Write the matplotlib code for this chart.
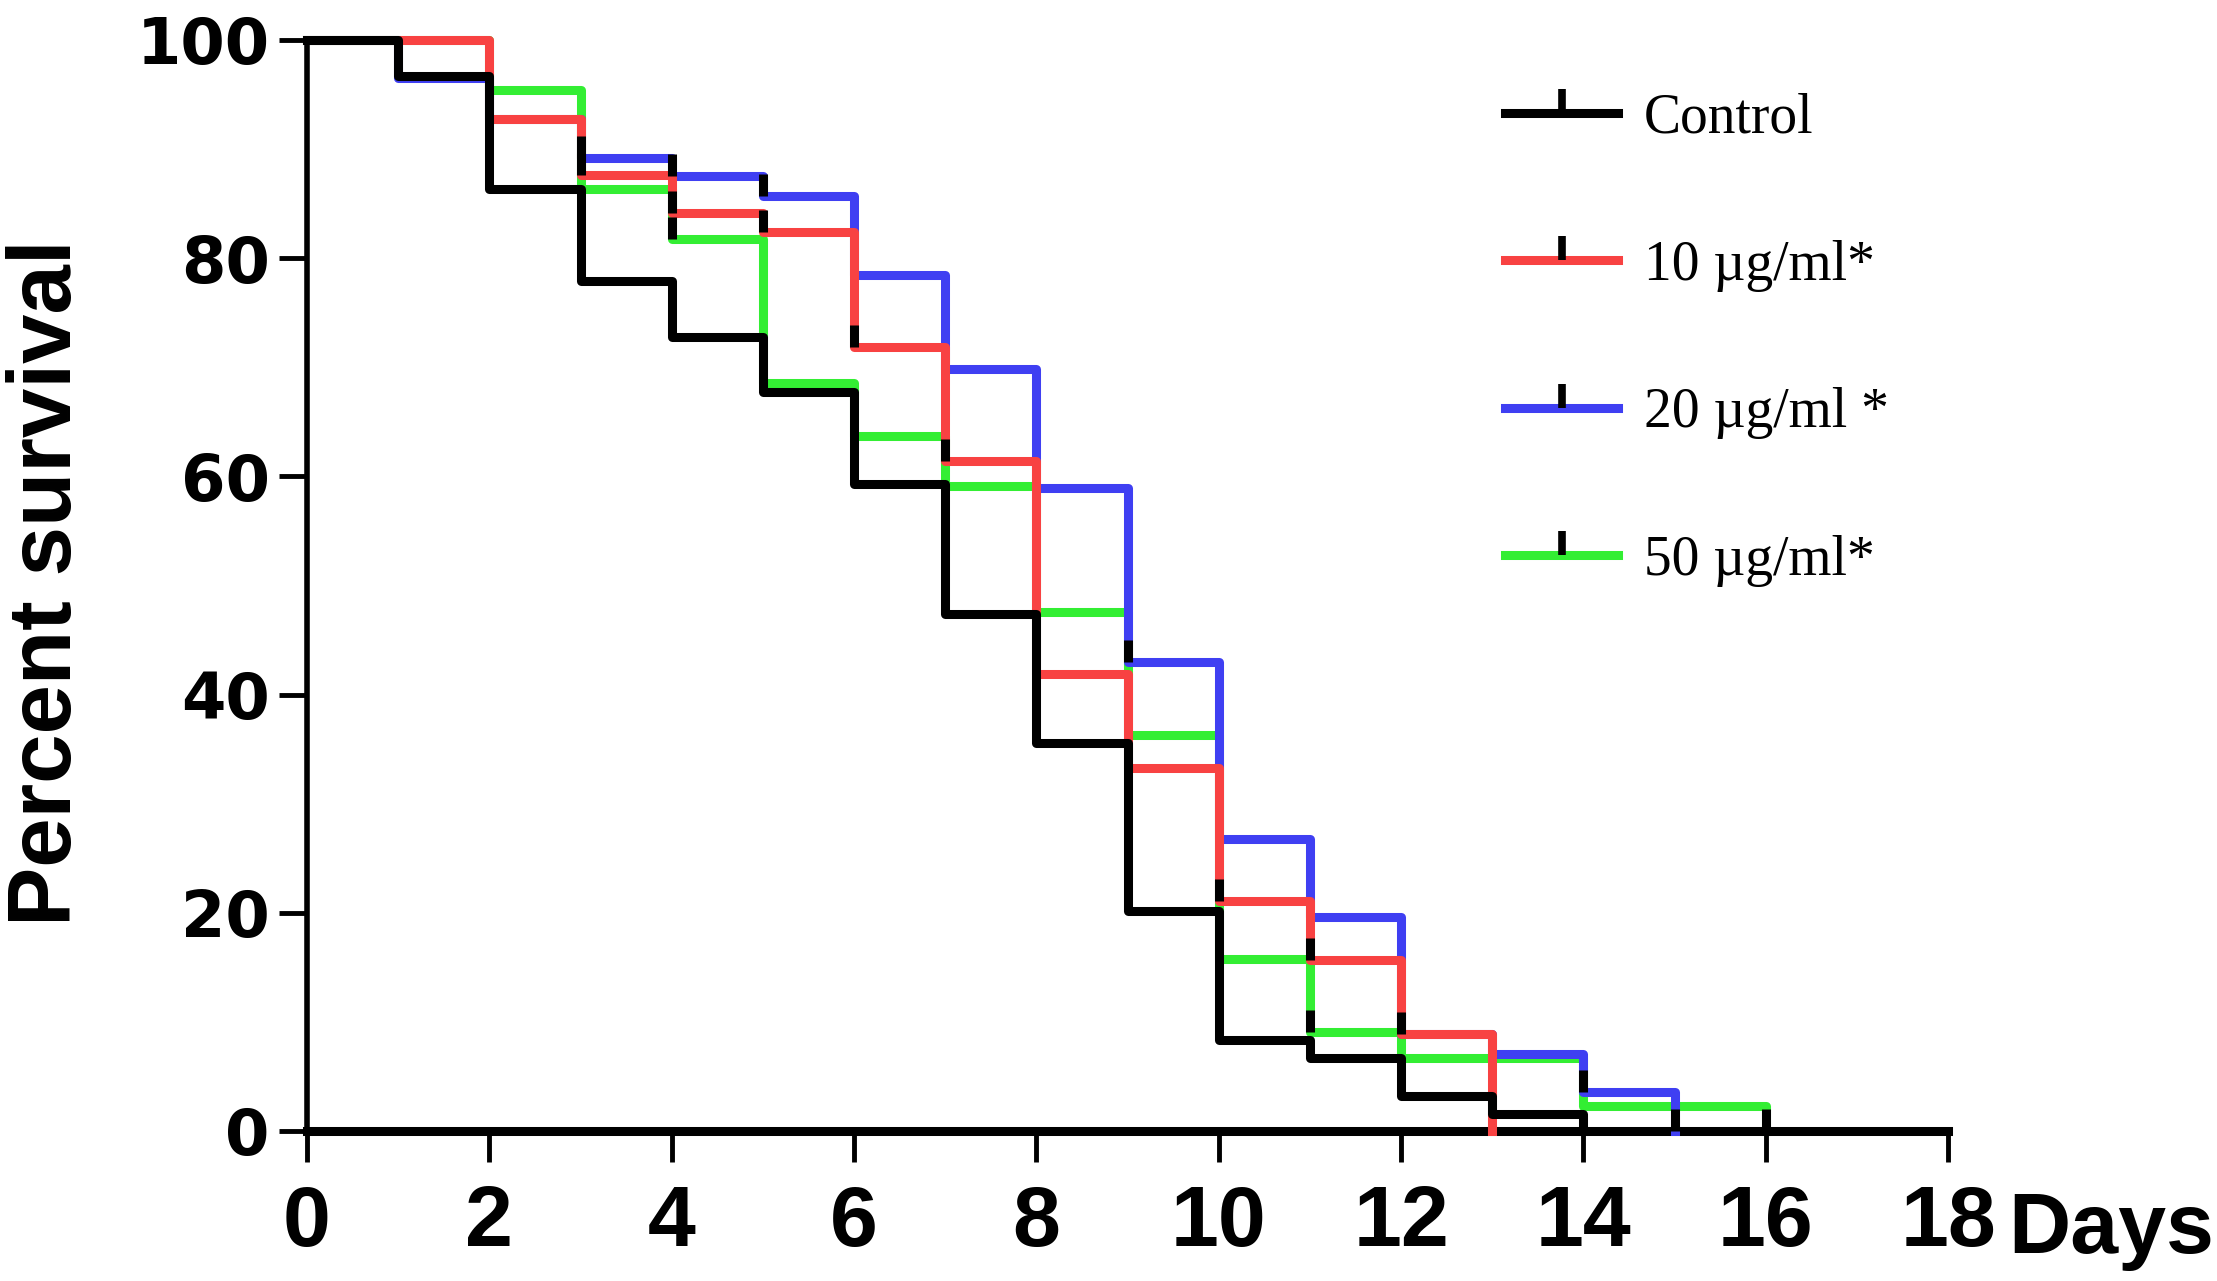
import matplotlib.pyplot as plt
from matplotlib.lines import Line2D

# survival curves, value holds from that day until the next
control_days = [0, 1, 2, 3, 4, 5, 6, 7, 8, 9, 10, 11, 12, 13, 14]
control_pct = [100, 96.7, 86.3, 77.9, 72.8, 67.7, 59.3, 47.4, 35.6, 20.2, 8.3, 6.7, 3.2, 1.6, 0]

d10_days = [0, 1, 2, 3, 4, 5, 6, 7, 8, 9, 10, 11, 12, 13]
d10_pct = [100, 100, 92.8, 87.6, 84.1, 82.4, 71.9, 61.4, 41.9, 33.3, 21.1, 15.7, 8.9, 0]

d20_days = [0, 1, 2, 3, 4, 5, 6, 7, 8, 9, 10, 11, 12, 13, 14, 15]
d20_pct = [100, 96.5, 92.8, 89.2, 87.5, 85.7, 78.5, 69.8, 58.9, 43.0, 26.8, 19.6, 8.9, 7.1, 3.6, 0]

d50_days = [0, 1, 2, 3, 4, 5, 6, 7, 8, 9, 10, 11, 12, 13, 14, 15, 16]
d50_pct = [100, 100, 95.4, 86.3, 81.8, 68.6, 63.7, 59.1, 47.6, 36.3, 15.8, 9.1, 6.7, 6.7, 2.3, 2.3, 0]

# censored ticks (day, percent)
d10_cens_days = [3, 4, 5, 6, 7, 10, 11, 12]
d10_cens_pct = [87.6, 84.1, 82.4, 71.9, 61.4, 21.1, 15.7, 8.9]
d20_cens_days = [3, 4, 5, 9, 14, 15]
d20_cens_pct = [89.2, 87.5, 85.7, 43.0, 3.6, 0]
d50_cens_days = [4, 11, 16]
d50_cens_pct = [81.8, 9.1, 0]

labels = ["Control", "10 \u00b5g/ml*", "20 \u00b5g/ml *", "50 \u00b5g/ml*"]
colors = ["#000000", "#f84242", "#3f3ff2", "#33ee33"]

x_ticks = list(range(0, 19, 2))
y_ticks = [0, 20, 40, 60, 80, 100]

fig = plt.figure(figsize=(22.17, 12.81), dpi=100)
ax = fig.add_axes([0.1385, 0.1171, 0.7402, 0.8517])

lw = 6.5
ax.step(d50_days, d50_pct, where="post", color=colors[3], lw=lw, clip_on=False, zorder=2)
ax.step(d20_days, d20_pct, where="post", color=colors[2], lw=lw, clip_on=False, zorder=3)
ax.step(d10_days, d10_pct, where="post", color=colors[1], lw=lw, clip_on=False, zorder=4)
ax.step(control_days, control_pct, where="post", color=colors[0], lw=lw, clip_on=False, zorder=5)

for cd, cp in [(d10_cens_days, d10_cens_pct), (d20_cens_days, d20_cens_pct), (d50_cens_days, d50_cens_pct)]:
    ax.plot(cd, cp, linestyle="none", marker=2, markersize=16, markeredgewidth=6.5,
            color="black", clip_on=False, zorder=6)

ax.set_xlim(0, 18)
ax.set_ylim(0, 100)
ax.set_xticks(x_ticks)
ax.set_yticks(y_ticks)
for s in ["top", "right"]:
    ax.spines[s].set_visible(False)
ax.spines["left"].set_linewidth(4)
ax.spines["bottom"].set_linewidth(6.5)
ax.tick_params(axis="x", direction="out", length=22, width=3.5, pad=16)
ax.tick_params(axis="y", direction="out", length=20, width=3.5, pad=7)

xfont = ["Liberation Sans Narrow", "Liberation Sans", "DejaVu Sans"]
ax.set_xticklabels([str(t) for t in x_ticks], fontfamily=xfont, fontweight="bold", fontsize=62)
ax.set_yticklabels([str(t) for t in y_ticks], fontfamily="DejaVu Sans", fontweight="bold", fontsize=46)

fig.text(0.0215, 0.545, "Percent survival", rotation=90, ha="center", va="center",
         fontfamily="Liberation Sans", fontweight="bold", fontsize=64)
fig.text(0.906, 0.022, "Days", ha="left", va="baseline",
         fontfamily=xfont, fontweight="bold", fontsize=62)

handles = [Line2D([], [], color=c, lw=6.5, marker=2, markersize=17, markeredgewidth=5.5,
                  markeredgecolor="black") for c in colors]
ax.legend(handles, labels, loc="upper left", bbox_to_anchor=(0.679, 0.928),
          bbox_transform=fig.transFigure, frameon=False, numpoints=1,
          prop={"family": "Liberation Serif", "size": 40},
          handlelength=2.03, handletextpad=0.47, labelspacing=1.72,
          borderpad=0, borderaxespad=0)

fig.savefig("out.png", dpi=100)
